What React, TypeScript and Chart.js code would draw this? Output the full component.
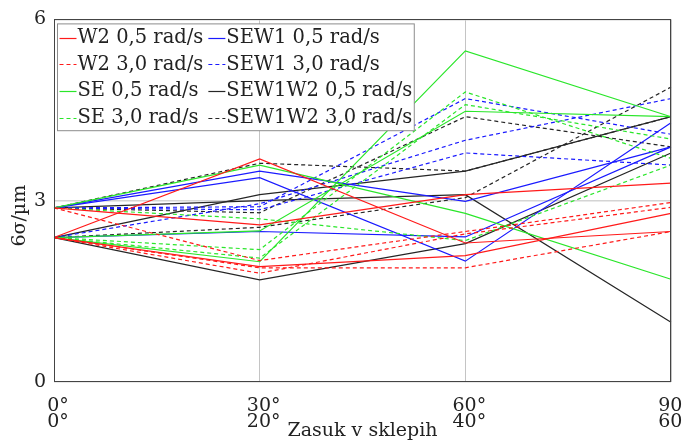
import React, { useEffect, useRef } from 'react';
import { Chart, registerables } from 'chart.js';

Chart.register(...registerables);

// Joint rotation: upper row for the first joint, lower row for the second
const categories = [
  ['0°', '0°'],
  ['30°', '20°'],
  ['60°', '40°'],
  ['90°', '60°'],
];
const yTicks = [0, 3, 6];
const yTitle = '6σ/µm';
const xTitle = 'Zasuk v sklepih';

// 6σ in µm, three measured lines per configuration
const w2Slow = [
  [2.39, 3.69, 2.30, 2.49],
  [2.88, 2.60, 3.10, 3.29],
  [2.39, 1.91, 2.09, 2.79],
];
const w2Fast = [
  [2.88, 2.01, 2.49, 2.97],
  [2.39, 1.80, 2.45, 2.89],
  [2.39, 1.89, 1.89, 2.49],
];
const seSlow = [
  [2.88, 3.59, 2.79, 1.70],
  [2.39, 1.99, 5.48, 4.39],
  [2.39, 2.50, 4.48, 4.39],
];
const seFast = [
  [2.88, 2.70, 2.34, 3.59],
  [2.39, 2.19, 4.80, 3.70],
  [2.39, 2.05, 4.59, 4.02],
];
const sew1Slow = [
  [2.88, 3.49, 2.99, 3.89],
  [2.88, 3.38, 2.00, 4.29],
  [2.39, 2.49, 2.40, 3.89],
];
const sew1Fast = [
  [2.88, 2.90, 4.69, 4.10],
  [2.39, 2.95, 4.00, 4.69],
  [2.88, 2.85, 3.79, 3.59],
];
const sew1w2Slow = [
  [2.39, 3.10, 3.49, 4.39],
  [2.88, 3.00, 3.10, 0.99],
  [2.39, 1.69, 2.29, 3.79],
];
const sew1w2Fast = [
  [2.88, 3.62, 3.49, 4.39],
  [2.88, 2.80, 4.39, 3.89],
  [2.39, 2.56, 3.05, 4.88],
];

const RED = '#ff1a1a';
const GREEN = '#2ae62a';
const BLUE = '#1a1aff';
const BLACK = '#262626';
const DASH = [4, 3];
const FONT_FAMILY = '"DejaVu Serif", "Liberation Serif", serif';
const TEXT = '#222222';

const series = [
  { label: 'W2 0,5 rad/s', color: RED, dashed: false, lines: w2Slow },
  { label: 'W2 3,0 rad/s', color: RED, dashed: true, lines: w2Fast },
  { label: 'SE 0,5 rad/s', color: GREEN, dashed: false, lines: seSlow },
  { label: 'SE 3,0 rad/s', color: GREEN, dashed: true, lines: seFast },
  { label: 'SEW1 0,5 rad/s', color: BLUE, dashed: false, lines: sew1Slow },
  { label: 'SEW1 3,0 rad/s', color: BLUE, dashed: true, lines: sew1Fast },
  { label: 'SEW1W2 0,5 rad/s', color: BLACK, dashed: false, lines: sew1w2Slow },
  { label: 'SEW1W2 3,0 rad/s', color: BLACK, dashed: true, lines: sew1w2Fast },
];

// Closed frame around the plot area
const framePlugin = {
  id: 'frame',
  afterDatasetsDraw(chart: any) {
    const { ctx, chartArea: a } = chart;
    ctx.save();
    ctx.strokeStyle = '#444444';
    ctx.lineWidth = 1;
    ctx.setLineDash([]);
    ctx.strokeRect(Math.round(a.left) + 0.5, Math.round(a.top) + 0.5,
      Math.round(a.right - a.left) - 1, Math.round(a.bottom - a.top) - 1);
    ctx.restore();
  },
};

// Rotated y-axis caption, placed a little below the axis middle
const yCaptionPlugin = {
  id: 'yCaption',
  afterDraw(chart: any) {
    const { ctx, chartArea: a } = chart;
    ctx.save();
    ctx.font = `19px ${FONT_FAMILY}`;
    ctx.fillStyle = TEXT;
    ctx.textAlign = 'center';
    ctx.textBaseline = 'middle';
    ctx.translate(20, (a.top + a.bottom) / 2 + 15);
    ctx.rotate(-Math.PI / 2);
    ctx.fillText(yTitle, 0, 0);
    ctx.restore();
  },
};

// Two-column boxed legend in the upper left corner of the plot
const boxLegendPlugin = {
  id: 'boxLegend',
  afterDraw(chart: any) {
    const { ctx, chartArea: a } = chart;
    ctx.save();
    ctx.font = `19.5px ${FONT_FAMILY}`;
    const half = Math.ceil(series.length / 2);
    const col1 = series.slice(0, half);
    const col2 = series.slice(half);
    const sample = 17;
    const w1 = Math.max(...col1.map((s) => ctx.measureText(s.label).width));
    const w2 = Math.max(...col2.map((s) => ctx.measureText(s.label).width));
    const left = a.left + 3.5;
    const top = a.top + 4.5;
    const rowH = 26.7;
    const col1X = left + 2;
    const col2X = col1X + sample + w1 + 6;
    const width = col2X + sample + w2 + 3 - left;
    const height = rowH * half;

    ctx.fillStyle = '#ffffff';
    ctx.fillRect(left, top, width, height);
    ctx.strokeStyle = '#8c8c8c';
    ctx.lineWidth = 1;
    ctx.strokeRect(left, top, width, height);

    const drawEntry = (s: any, x: number, i: number) => {
      const y = top + rowH * i + rowH / 2 + 0.5;
      ctx.strokeStyle = s.color;
      ctx.lineWidth = 1.2;
      ctx.setLineDash(s.dashed ? DASH : []);
      ctx.beginPath();
      ctx.moveTo(x, Math.round(y) + 0.5);
      ctx.lineTo(x + sample, Math.round(y) + 0.5);
      ctx.stroke();
      ctx.setLineDash([]);
      ctx.fillStyle = TEXT;
      ctx.textBaseline = 'middle';
      ctx.textAlign = 'left';
      ctx.fillText(s.label, x + sample + 1, y);
    };
    col1.forEach((s, i) => drawEntry(s, col1X, i));
    col2.forEach((s, i) => drawEntry(s, col2X, i));
    ctx.restore();
  },
};

export default function App() {
  const canvasRef = useRef<HTMLCanvasElement | null>(null);

  useEffect(() => {
    const canvas = canvasRef.current;
    if (!canvas) return;

    const datasets = series.flatMap((s) =>
      s.lines.map((values) => ({
        label: s.label,
        data: values,
        borderColor: s.color,
        backgroundColor: s.color,
        borderDash: s.dashed ? DASH : [],
        borderWidth: 1.2,
        pointRadius: 0,
        fill: false,
        tension: 0,
      }))
    );

    const tickFont = { family: FONT_FAMILY, size: 19, lineHeight: 0.84 };
    const titleFont = { family: FONT_FAMILY, size: 19, lineHeight: 1 };

    const chart = new Chart(canvas, {
      type: 'line',
      data: { labels: categories, datasets },
      options: {
        animation: false,
        responsive: false,
        events: [],
        layout: { padding: { top: 18, right: 11, left: 0, bottom: 0 } },
        plugins: {
          legend: { display: false },
          tooltip: { enabled: false },
        },
        scales: {
          x: {
            type: 'category',
            offset: false,
            border: { display: false },
            grid: { color: '#c4c4c4', lineWidth: 1, drawTicks: false },
            ticks: {
              font: tickFont,
              color: TEXT,
              padding: 16,
              maxRotation: 0,
              autoSkip: false,
              labelOffset: 4,
            },
            title: {
              display: true,
              text: xTitle,
              font: titleFont,
              color: TEXT,
              padding: 0,
            },
            afterFit(scale: any) {
              scale.height = 59;
              scale.paddingLeft = 0;
              scale.paddingRight = 0;
            },
          },
          y: {
            min: 0,
            max: 6,
            border: { display: false },
            grid: { color: '#d4d4d4', lineWidth: 1.5, drawTicks: false },
            afterBuildTicks(scale: any) {
              scale.ticks = yTicks.map((v) => ({ value: v }));
            },
            ticks: {
              font: { family: FONT_FAMILY, size: 19 },
              color: TEXT,
              padding: 8,
            },
            afterFit(scale: any) {
              scale.width = 54;
            },
          },
        },
      },
      plugins: [framePlugin, yCaptionPlugin, boxLegendPlugin],
    });

    return () => chart.destroy();
  }, []);

  return (
    <div style={{ position: 'fixed', left: 0, top: 0, width: 682, height: 441, background: '#ffffff' }}>
      <canvas ref={canvasRef} width={682} height={441} style={{ display: 'block' }} />
    </div>
  );
}
